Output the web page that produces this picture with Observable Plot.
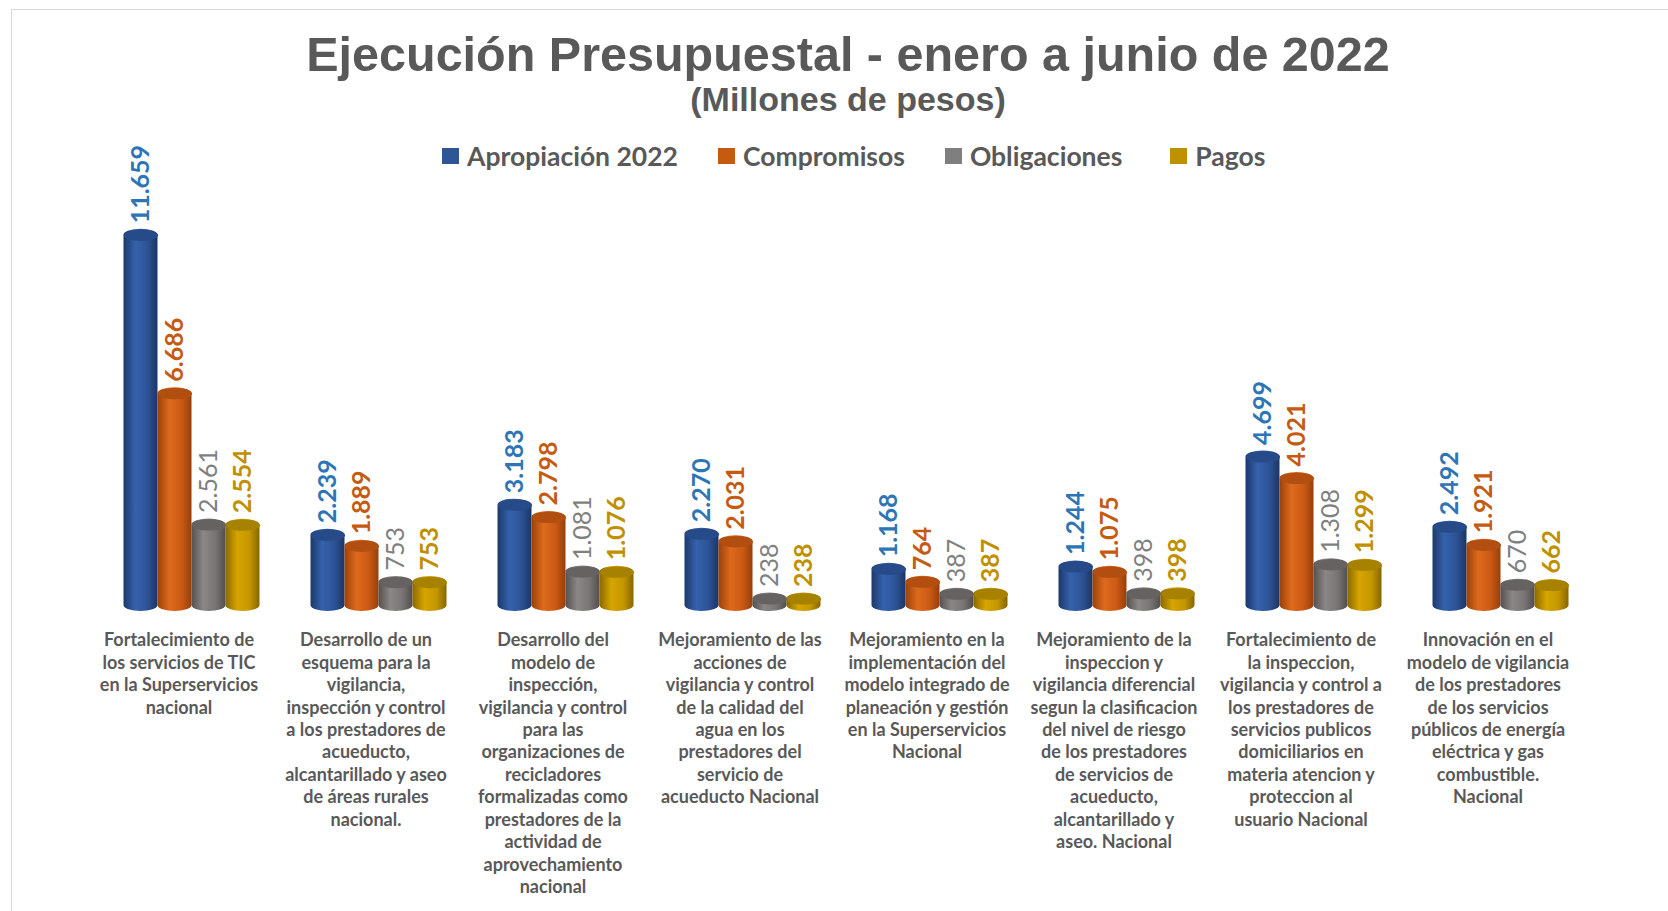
<!DOCTYPE html>
<html>
<head>
<meta charset="utf-8">
<script src="https://cdn.jsdelivr.net/npm/d3@7"></script>
<script src="https://cdn.jsdelivr.net/npm/@observablehq/plot@0.6"></script>
<style>
  html, body { margin: 0; padding: 0; background: #fff; }
  body { width: 1668px; height: 911px; position: relative; overflow: hidden; font-family: Lato, "Noto Sans", sans-serif; }
  #frame { position: absolute; left: 11px; top: 9px; right: -5px; bottom: -5px; border-top: 1.5px solid #d9d9d9; border-left: 1.5px solid #d9d9d9; }
  #title { position: absolute; left: 0; width: 1696px; top: 30px; height: 50px; text-align: center; font-family: "Liberation Sans", Arial, sans-serif; font-weight: bold; font-size: 48.5px; color: #595959; line-height: 1; z-index: 2; white-space: nowrap; }
  #subtitle { position: absolute; left: 0; width: 1696px; top: 82px; text-align: center; font-family: "Liberation Sans", Arial, sans-serif; font-weight: bold; font-size: 34px; color: #595959; line-height: 1; z-index: 2; }
  #legend { position: absolute; left: 442px; top: 140px; display: flex; align-items: center; font-weight: bold; font-size: 26.5px; color: #595959; z-index: 2; white-space: nowrap; }
  .item { display: flex; align-items: center; margin-right: 40px; }
  .sw { width: 17px; height: 16px; margin-right: 8px; }
  #chart { position: absolute; left: 0; top: 120px; z-index: 1; }
</style>
</head>
<body>
<div id="frame"></div>
<div id="title">Ejecución Presupuestal - enero a junio de 2022</div>
<div id="subtitle">(Millones de pesos)</div>
<div id="legend"></div>
<div id="chart"></div>
<script>
const categories = [
  "Fortalecimiento de\nlos servicios de TIC\nen la Superservicios\nnacional",
  "Desarrollo de un\nesquema para la\nvigilancia,\ninspección y control\na los prestadores de\nacueducto,\nalcantarillado y aseo\nde áreas rurales\nnacional.",
  "Desarrollo del\nmodelo de\ninspección,\nvigilancia y control\npara las\norganizaciones de\nrecicladores\nformalizadas como\nprestadores de la\nactividad de\naprovechamiento\nnacional",
  "Mejoramiento de las\nacciones de\nvigilancia y control\nde la calidad del\nagua en los\nprestadores del\nservicio de\nacueducto Nacional",
  "Mejoramiento en la\nimplementación del\nmodelo integrado de\nplaneación y gestión\nen la Superservicios\nNacional",
  "Mejoramiento de la\ninspeccion y\nvigilancia diferencial\nsegun la clasificacion\ndel nivel de riesgo\nde los prestadores\nde servicios de\nacueducto,\nalcantarillado y\naseo. Nacional",
  "Fortalecimiento de\nla inspeccion,\nvigilancia y control a\nlos prestadores de\nservicios publicos\ndomiciliarios en\nmateria atencion y\nproteccion al\nusuario Nacional",
  "Innovación en el\nmodelo de vigilancia\nde los prestadores\nde los servicios\npúblicos de energía\neléctrica y gas\ncombustible.\nNacional"
];
const seriesNames = ["Apropiación 2022", "Compromisos", "Obligaciones", "Pagos"];
const apropiacion = [11659, 2239, 3183, 2270, 1168, 1244, 4699, 2492];
const compromisos = [6686, 1889, 2798, 2031, 764, 1075, 4021, 1921];
const obligaciones = [2561, 753, 1081, 238, 387, 398, 1308, 670];
const pagos = [2554, 753, 1076, 238, 387, 398, 1299, 662];

const seriesValues = [apropiacion, compromisos, obligaciones, pagos];
const legendColors = ["#2F5597", "#C55A11", "#7F7F7F", "#BF9000"];
const labelColors = ["#2E75B6", "#C55A11", "#7F7F7F", "#BF9000"];
const labelWeights = ["bold", "bold", "normal", "bold"];
const gradStops = [
  ["#1d386a", "#3562ad", "#2d5396", "#1c3566"],
  ["#9a410b", "#dd6a1c", "#cc5a14", "#963f0b"],
  ["#555151", "#8c8787", "#7a7575", "#524e4e"],
  ["#8a6900", "#d6a500", "#c59700", "#866600"]
];
const topColors = ["#274a88", "#b24f10", "#666262", "#a68200"];

const data = [];
seriesNames.forEach((s, si) => {
  categories.forEach((c, ci) => data.push({category: c, series: s, value: seriesValues[si][ci], si}));
});

const fmt = d3.formatLocale({decimal: ",", thousands: ".", grouping: [3], currency: ["$", ""]}).format(",d");

// legend
const legend = document.getElementById("legend");
seriesNames.forEach((s, i) => {
  const it = document.createElement("div");
  it.className = "item";
  if (i === 2) it.style.marginRight = "48px";
  it.innerHTML = `<div class="sw" style="background:${legendColors[i]}"></div><span>${s}</span>`;
  legend.appendChild(it);
});

const barHalf = 17;
const ellipse = {
  draw(context, size) {
    const rx = Math.sqrt(size / Math.PI);
    const ry = rx * 0.33;
    const k = 0.5523;
    context.moveTo(-rx, 0);
    context.bezierCurveTo(-rx, -ry * k, -rx * k, -ry, 0, -ry);
    context.bezierCurveTo(rx * k, -ry, rx, -ry * k, rx, 0);
    context.bezierCurveTo(rx, ry * k, rx * k, ry, 0, ry);
    context.bezierCurveTo(-rx * k, ry, -rx, ry * k, -rx, 0);
    context.closePath();
  }
};

const marks = [];
seriesNames.forEach((s, i) => {
  const d = data.filter(r => r.si === i);
  marks.push(Plot.barY(d, {fx: "category", x: "series", y: "value", fill: `url(#grad${i})`, rx: barHalf, ry: 6, insetTop: -6, insetBottom: -5}));
  marks.push(Plot.dot(d, {fx: "category", x: "series", y: "value", r: barHalf, symbol: ellipse, fill: topColors[i], stroke: null}));
  marks.push(Plot.text(d, {fx: "category", x: "series", y: "value", text: r => fmt(r.value), rotate: -90, textAnchor: "start", dy: -12, fill: labelColors[i], fontSize: 25, fontWeight: labelWeights[i]}));
});
marks.push(Plot.text(categories, {fx: d => d, text: d => d, frameAnchor: "bottom", lineAnchor: "top", dy: 24, dx: -13, fontSize: 18, lineHeight: 1.245, fontWeight: "bold", fill: "#595959"}));

const chart = Plot.plot({
  width: 1668,
  height: 791,
  marginLeft: 97.5,
  marginRight: 74.5,
  marginTop: 8.5,
  marginBottom: 305,
  style: {fontFamily: "Lato, 'Noto Sans', sans-serif", background: "transparent", overflow: "visible"},
  fx: {domain: categories, paddingInner: 0.27, paddingOuter: 0.135, axis: null, label: null},
  x: {domain: seriesNames, padding: 0, axis: null},
  y: {domain: [0, 15000], axis: null},
  marks
});

const ns = "http://www.w3.org/2000/svg";
const defs = document.createElementNS(ns, "defs");
gradStops.forEach((stops, i) => {
  const g = document.createElementNS(ns, "linearGradient");
  g.setAttribute("id", `grad${i}`);
  g.setAttribute("x1", "0"); g.setAttribute("x2", "1"); g.setAttribute("y1", "0"); g.setAttribute("y2", "0");
  [0, 0.35, 0.7, 1].forEach((o, j) => {
    const st = document.createElementNS(ns, "stop");
    st.setAttribute("offset", o);
    st.setAttribute("stop-color", stops[j]);
    g.appendChild(st);
  });
  defs.appendChild(g);
});
chart.insertBefore(defs, chart.firstChild);
document.getElementById("chart").appendChild(chart);
</script>
</body>
</html>
